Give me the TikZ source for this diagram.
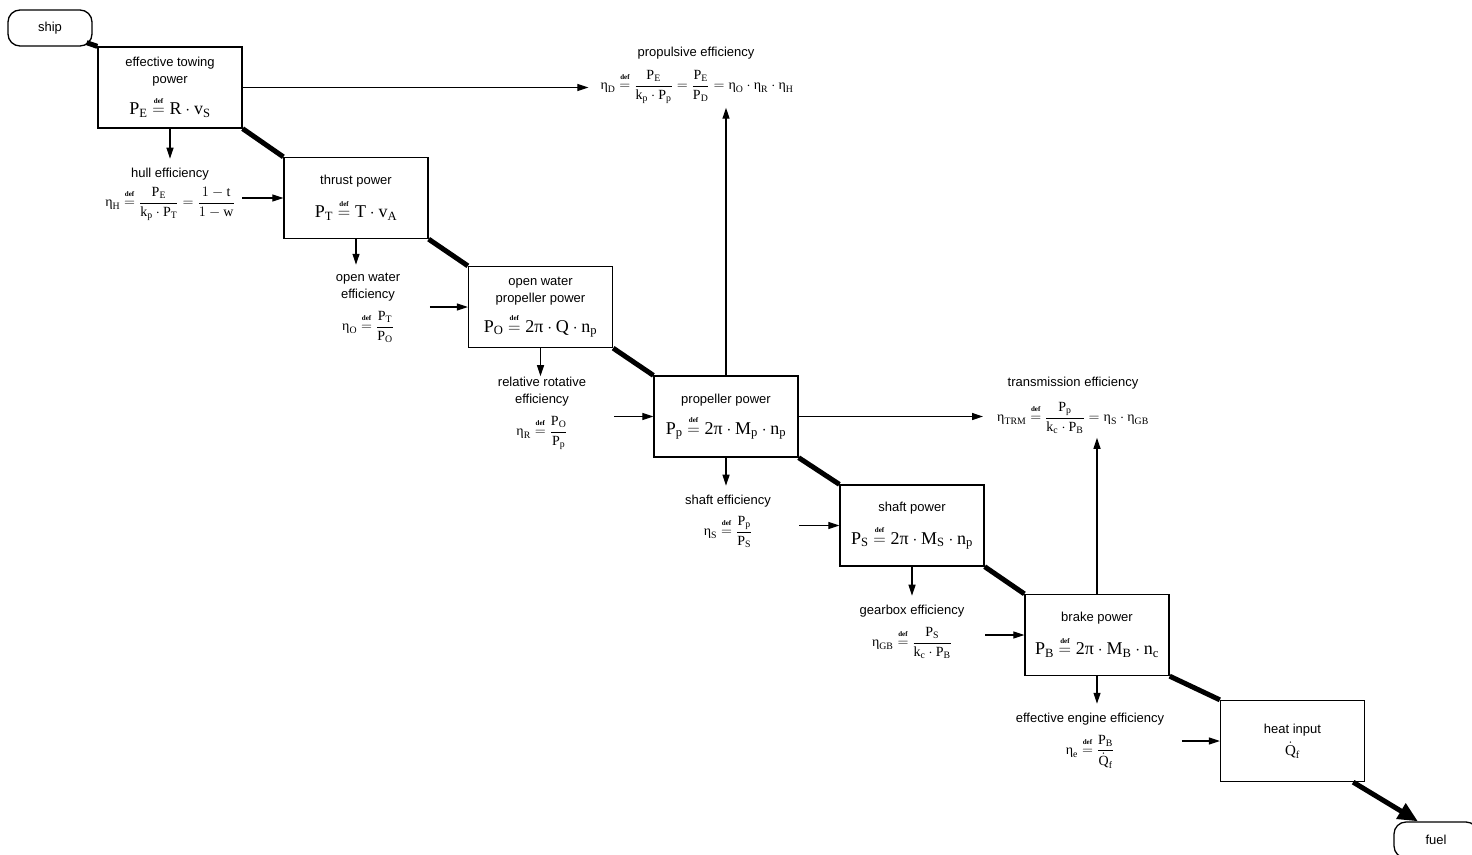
\documentclass[tikz,border=0pt]{standalone}
\usepackage{amsmath}
\usepackage[no-math]{fontspec}
\setmainfont{Liberation Sans}
\newfontfamily\serf{Liberation Serif}
\usetikzlibrary{arrows.meta,calc}
\newcommand{\R}[1]{\text{\serf #1}}
\newcommand{\s}[1]{_{\text{\serf #1}}}
\newcommand{\dq}{\mathrel{\stackrel{\raisebox{2pt}{\fontsize{7}{7}\selectfont\bfseries\serf def}}{=}}}
\newcommand{\bigf}[1]{{\fontsize{18}{22}\selectfont$#1$}}
\begin{document}
\begin{tikzpicture}[x=1pt,y=-1pt,
 pbox/.style={draw, line width=1.3pt, minimum width=144pt, minimum height=81pt, align=center, inner sep=2pt, font=\fontsize{13}{17}\selectfont},
 term/.style={draw, line width=1.3pt, rounded corners=12pt, minimum width=84pt, minimum height=36pt, font=\fontsize{13}{15}\selectfont},
 lab/.style={align=center, inner sep=0pt, font=\fontsize{13}{17}\selectfont},
 frm/.style={inner sep=0pt, font=\fontsize{14}{16}\selectfont},
 flow/.style={line width=5pt},
 arr/.style={line width=1.2pt, -{Triangle[length=11pt,width=7pt]}},
]
\useasboundingbox (0,0) rectangle (1472,854);

% terminals
\node[term] (ship) at (50,28) {ship};
\node[term] (fuel) at (1436,840) {fuel};

% power boxes
\node[pbox] (b1) at (170,87.5) {effective towing\\power\\[9pt]\bigf{\R{P}\s{E} \dq \R{R}\cdot \R{v}\s{S}}};
\node[pbox] (b2) at (356,198) {thrust power\\[11pt]\bigf{\R{P}\s{T} \dq \R{T}\cdot \R{v}\s{A}}};
\node[pbox] (b3) at (540.5,307) {open water\\propeller power\\[8pt]\bigf{\R{P}\s{O} \dq \R{2π}\cdot \R{Q}\cdot \R{n}\s{p}}};
\node[pbox] (b4) at (726,416.5) {propeller power\\[9pt]\bigf{\R{P}\s{p} \dq \R{2π}\cdot \R{M}\s{p}\cdot \R{n}\s{p}}};
\node[pbox] (b5) at (912,525.5) {shaft power\\[11pt]\bigf{\R{P}\s{S} \dq \R{2π}\cdot \R{M}\s{S}\cdot \R{n}\s{p}}};
\node[pbox] (b6) at (1097,635) {brake power\\[11pt]\bigf{\R{P}\s{B} \dq \R{2π}\cdot \R{M}\s{B}\cdot \R{n}\s{c}}};
\node[pbox] (heat) at (1292.5,741) {heat input\\[5pt]{\fontsize{15}{17}\selectfont$\dot{\R{Q}}\s{f}$}};

% efficiencies
\node[lab] (propL) at (696,53) {propulsive efficiency};
\node[frm] (propF) at (697,87) {$\R{η}\s{D} \dq \dfrac{\R{P}\s{E}}{\R{k}\s{p}\cdot\R{P}\s{p}} = \dfrac{\R{P}\s{E}}{\R{P}\s{D}} = \R{η}\s{O}\cdot\R{η}\s{R}\cdot\R{η}\s{H}$};

\node[lab] (transL) at (1073,383) {transmission efficiency};
\node[frm] (transF) at (1073,418) {$\R{η}\s{TRM} \dq \dfrac{\R{P}\s{p}}{\R{k}\s{c}\cdot\R{P}\s{B}} = \R{η}\s{S}\cdot\R{η}\s{GB}$};

\node[lab] (hullL) at (170,174) {hull efficiency};
\node[frm] (hullF) at (170,204) {$\R{η}\s{H} \dq \dfrac{\R{P}\s{E}}{\R{k}\s{p}\cdot\R{P}\s{T}} = \dfrac{1-\R{t}}{1-\R{w}}$};

\node[lab] (owL) at (368,287) {open water\\efficiency};
\node[frm] (owF) at (368,327) {$\R{η}\s{O} \dq \dfrac{\R{P}\s{T}}{\R{P}\s{O}}$};

\node[lab] (rrL) at (542,392) {relative rotative\\efficiency};
\node[frm] (rrF) at (542,433) {$\R{η}\s{R} \dq \dfrac{\R{P}\s{O}}{\R{P}\s{p}}$};

\node[lab] (shL) at (728,501) {shaft efficiency};
\node[frm] (shF) at (728,532) {$\R{η}\s{S} \dq \dfrac{\R{P}\s{p}}{\R{P}\s{S}}$};

\node[lab] (gbL) at (912,611) {gearbox efficiency};
\node[frm] (gbF) at (912,643) {$\R{η}\s{GB} \dq \dfrac{\R{P}\s{S}}{\R{k}\s{c}\cdot\R{P}\s{B}}$};

\node[lab] (enL) at (1090,719) {effective engine efficiency};
\node[frm] (enF) at (1090,752) {$\R{η}\s{e} \dq \dfrac{\R{P}\s{B}}{\rule{0pt}{13pt}\dot{\R{Q}}\s{f}}$};

% main power flow
\draw[flow] ([shift={(-6,-4)}]ship.south east) -- (b1.north west);
\draw[flow] (b1.south east) -- (b2.north west);
\draw[flow] (b2.south east) -- (b3.north west);
\draw[flow] (b3.south east) -- (b4.north west);
\draw[flow] (b4.south east) -- (b5.north west);
\draw[flow] (b5.south east) -- (b6.north west);
\draw[flow] (b6.south east) -- (heat.north west);
\draw[flow, -{Triangle[length=20pt,width=17pt]}] ([xshift=-12pt]heat.south east) -- ([xshift=-18pt]fuel.north);

% down arrows to efficiencies
\draw[arr, shorten >=9pt] (b1.south) -- (b1.south |- hullL.north);
\draw[arr, shorten >=8pt] (b2.south) -- (b2.south |- owL.north);
\draw[arr, shorten >=1pt] (b3.south) -- (b3.south |- rrL.north);
\draw[arr, shorten >=9pt] (b4.south) -- (b4.south |- shL.north);
\draw[arr, shorten >=9pt] (b5.south) -- (b5.south |- gbL.north);
\draw[arr, shorten >=9pt] (b6.south) -- (b6.south |- enL.north);

% arrows from efficiencies to next box
\draw[arr] ([xshift=-41pt]b2.west) -- (b2.west);
\draw[arr] ([xshift=-38pt]b3.west) -- (b3.west);
\draw[arr] ([xshift=-39pt]b4.west) -- (b4.west);
\draw[arr] ([xshift=-40pt]b5.west) -- (b5.west);
\draw[arr] ([xshift=-39pt]b6.west) -- (b6.west);
\draw[arr] ([xshift=-38pt]heat.west) -- (heat.west);

% arrows to overall efficiencies
\draw[arr, shorten >=12pt] (b1.east) -- (b1.east -| propF.west);
\draw[arr, shorten >=4pt] (b4.north) -- (b4.north |- propF.south);
\draw[arr, shorten >=14pt] (b4.east) -- (b4.east -| transF.west);
\draw[arr, shorten >=4pt] (b6.north) -- (b6.north |- transF.south);
\end{tikzpicture}
\end{document}
